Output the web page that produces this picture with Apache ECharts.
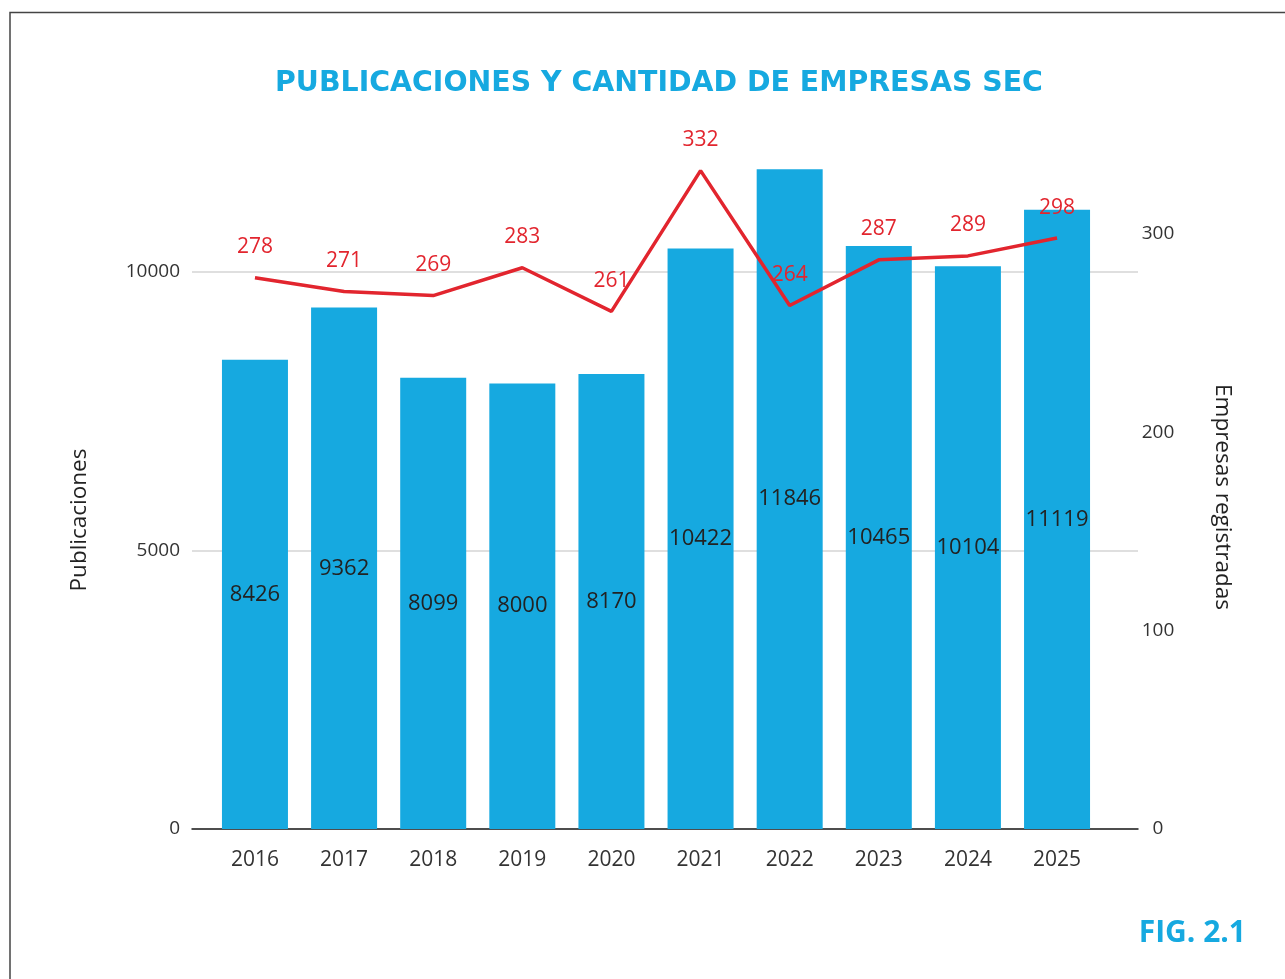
<!DOCTYPE html>
<html>
<head>
<meta charset="utf-8">
<script src="https://cdn.jsdelivr.net/npm/echarts@6/dist/echarts.min.js"></script>
<style>
  html, body { margin: 0; padding: 0; background: #fff; }
  #chart { width: 1285px; height: 979px; }
</style>
</head>
<body>
<div id="chart"></div>
<script>
// datos del gráfico
const years = ['2016', '2017', '2018', '2019', '2020', '2021', '2022', '2023', '2024', '2025'];
const publicaciones = [8426, 9362, 8099, 8000, 8170, 10422, 11846, 10465, 10104, 11119];
const empresas = [278, 271, 269, 283, 261, 332, 264, 287, 289, 298];

const FONT = '"Open Sans", sans-serif';
const TITLE_FONT = '"DejaVu Sans", sans-serif';
const BLUE = '#16a9e0';
const RED = '#e2252e';

// escalas: 0 en y=829, tope del grid en y=150
const leftMax = 12190;
const rightMax = 342.4;

const chart = echarts.init(document.getElementById('chart'));

const option = {
    backgroundColor: '#fff',
    animation: false,
    title: [
        {
            text: 'PUBLICACIONES Y CANTIDAD DE EMPRESAS SEC',
            left: 654, top: 65, textAlign: 'center',
            textStyle: { color: BLUE, fontSize: 28.4, fontWeight: 'bold', fontFamily: TITLE_FONT }
        },
        {
            text: 'FIG. 2.1',
            right: 34, top: 913,
            textStyle: { color: BLUE, fontSize: 30, fontWeight: 'bold', fontFamily: FONT }
        }
    ],
    graphic: [
        {
            type: 'rect',
            shape: { x: 10, y: 12.5, width: 1400, height: 1100 },
            style: { fill: 'none', stroke: '#444', lineWidth: 1.5 },
            silent: true
        },
        {
            type: 'text', x: 80, y: 520, rotation: Math.PI / 2,
            style: { text: 'Publicaciones', fill: '#222', font: '22.5px ' + FONT, align: 'center', verticalAlign: 'middle' }
        },
        {
            type: 'text', x: 1222, y: 497, rotation: -Math.PI / 2,
            style: { text: 'Empresas registradas', fill: '#222', font: '22.5px ' + FONT, align: 'center', verticalAlign: 'middle' }
        }
    ],
    grid: [
        { left: 192, right: 147, top: 150, bottom: 150 },
        { left: 210.4, right: 183.4, top: 150, bottom: 150 }
    ],
    xAxis: [
        {
            gridIndex: 0, type: 'category', data: years,
            axisLine: { show: true, lineStyle: { color: '#1f1f1f', width: 1.5 } },
            axisTick: { show: false }, axisLabel: { show: false }
        },
        {
            gridIndex: 1, type: 'category', data: years,
            axisLine: { show: false }, axisTick: { show: false },
            axisLabel: { color: '#333', fontSize: 21, fontFamily: FONT, margin: 21 }
        }
    ],
    yAxis: [
        {
            gridIndex: 0, type: 'value', position: 'left',
            min: 0, max: leftMax, interval: 5000,
            axisLine: { show: false }, axisTick: { show: false },
            axisLabel: {
                color: '#333', fontSize: 19, fontFamily: FONT, margin: 12, showMaxLabel: false,
                formatter: (v) => String(v)
            },
            splitLine: { show: true, showMaxLine: false, lineStyle: { color: '#d4d4d4', width: 1.5 } }
        },
        {
            gridIndex: 0, type: 'value', position: 'right',
            min: 0, max: rightMax, interval: 100,
            axisLine: { show: false }, axisTick: { show: false },
            axisLabel: { color: '#333', fontSize: 19, fontFamily: FONT, margin: 20, align: 'center', showMaxLabel: false },
            splitLine: { show: false }
        },
        { gridIndex: 1, type: 'value', min: 0, max: leftMax, show: false, splitLine: { show: false } },
        { gridIndex: 1, type: 'value', min: 0, max: rightMax, show: false, splitLine: { show: false } }
    ],
    series: [
        {
            name: 'Publicaciones', type: 'bar',
            xAxisIndex: 1, yAxisIndex: 2,
            data: publicaciones, barWidth: 66,
            itemStyle: { color: BLUE },
            label: { show: true, position: 'inside', color: '#222', fontSize: 22, fontFamily: FONT }
        },
        {
            name: 'Empresas registradas', type: 'line',
            xAxisIndex: 1, yAxisIndex: 3,
            data: empresas,
            symbol: 'circle', symbolSize: 0, showSymbol: true,
            lineStyle: { color: RED, width: 3.5 },
            itemStyle: { color: RED },
            label: { show: true, position: 'top', distance: 20, color: RED, fontSize: 21, fontFamily: FONT }
        }
    ]
};

chart.setOption(option);
</script>
</body>
</html>
